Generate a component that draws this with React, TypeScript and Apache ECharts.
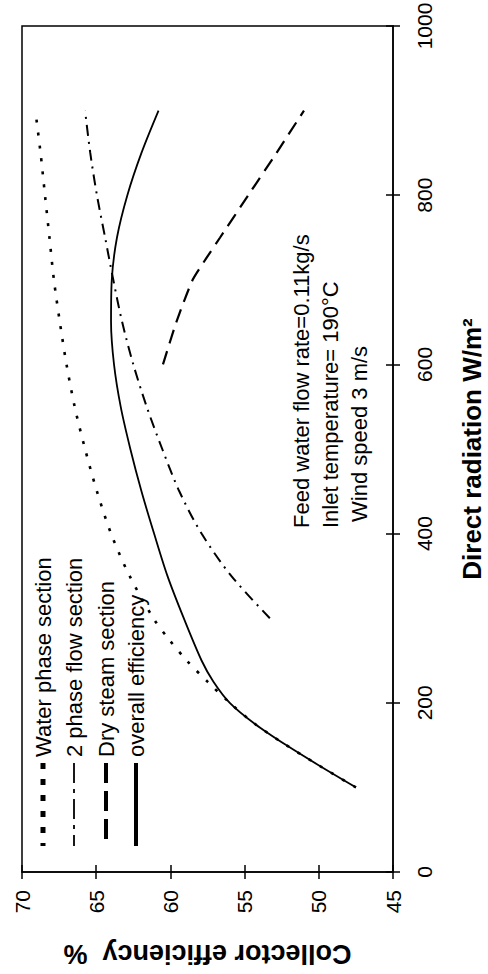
import React, { useEffect, useRef } from "react";
import * as echarts from "echarts";

// Radiation (W/m²) and collector efficiency (%) for each curve
const waterRad = [100, 125, 150, 175, 200, 225, 250, 275, 300, 350, 400, 450, 500, 550, 600, 650, 700, 750, 800, 850, 900];
const waterEff = [47.5, 49.9, 52.2, 54.3, 56.0, 57.5, 58.9, 60.1, 61.15, 62.75, 64.0, 64.95, 65.75, 66.45, 67.0, 67.45, 67.85, 68.15, 68.45, 68.75, 69.1];

const twoPhaseRad = [300, 350, 400, 450, 500, 550, 600, 650, 700, 750, 800, 850, 900];
const twoPhaseEff = [53.3, 55.9, 57.9, 59.4, 60.55, 61.6, 62.5, 63.25, 63.85, 64.4, 64.95, 65.4, 65.75];

const dryRad = [600, 650, 700, 725, 750, 800, 850, 900];
const dryEff = [60.5, 59.6, 58.5, 57.6, 56.65, 54.75, 52.85, 51.0];

const overallRad = [100, 125, 150, 175, 200, 225, 250, 300, 350, 400, 450, 500, 550, 600, 650, 700, 750, 800, 850, 900];
const overallEff = [47.5, 49.9, 52.2, 54.3, 56.0, 57.1, 57.9, 59.1, 60.2, 61.1, 61.95, 62.7, 63.35, 63.8, 64.0, 63.95, 63.6, 62.9, 61.95, 60.8];

const seriesNames = ["Water phase section", "2 phase flow section", "Dry steam section", "overall efficiency"];
const notes = ["Feed water flow rate=0.11kg/s", "Inlet temperature= 190°C", "Wind speed 3 m/s"];

const effTicks = { min: 45, max: 70, interval: 5 };
const radTicks = { min: 0, max: 1000, interval: 200 };

const FONT = "Liberation Sans, Arial, sans-serif";

function pairs(eff: number[], rad: number[]) {
  return eff.map((e, i) => [e, rad[i]]);
}

export default function App() {
  const ref = useRef<HTMLDivElement>(null);
  useEffect(() => {
    if (!ref.current) return;
    const chart = echarts.init(ref.current, null, { renderer: "svg" });
    const black = "#000";
    const baseX = {
      type: "value",
      min: effTicks.min,
      max: effTicks.max,
      interval: effTicks.interval,
      inverse: true,
      position: "bottom",
      splitLine: { show: false },
    };
    const baseY = {
      type: "value",
      min: radTicks.min,
      max: radTicks.max,
      interval: radTicks.interval,
      position: "right",
      splitLine: { show: false },
    };
    const rot = Math.PI / 2;
    const legendX = [43, 74, 106, 136];
    const legendDash: any[] = [[6, 10], [20, 6, 4, 6], [20, 8], null];
    const legendWidth = [5, 1.8, 4, 4];
    const graphics: any[] = [];
    seriesNames.forEach((n, i) => {
      graphics.push({
        type: "line",
        shape: { x1: legendX[i], y1: 763, x2: legendX[i], y2: 846 },
        style: { stroke: black, lineWidth: legendWidth[i], lineDash: legendDash[i] || undefined },
      });
      graphics.push({
        type: "text",
        x: legendX[i],
        y: 757,
        rotation: rot,
        style: { text: n, fill: black, font: `22px ${FONT}`, textAlign: "left", textVerticalAlign: "middle" },
      });
    });
    const noteX = [301, 330, 359];
    const noteY = [528, 528, 522];
    notes.forEach((t, i) => {
      graphics.push({
        type: "text",
        x: noteX[i],
        y: noteY[i],
        rotation: rot,
        style: { text: t, fill: black, font: `22px ${FONT}`, textAlign: "left", textVerticalAlign: "middle" },
      });
    });

    chart.setOption({
      animation: false,
      backgroundColor: "#fff",
      grid: {
        left: 22, right: 95, top: 26, bottom: 102,
        containLabel: false, outerBoundsMode: "none",
        show: true, borderColor: black, borderWidth: 1.5, backgroundColor: "transparent",
      },
      xAxis: [
        {
          ...baseX,
          axisLine: { show: true, lineStyle: { color: black, width: 1.5 } },
          axisTick: { show: true, length: 7, lineStyle: { color: black, width: 1.5 } },
          axisLabel: { rotate: 90, fontSize: 21, color: black, fontFamily: FONT, margin: 18, formatter: (v: number) => String(v) },
          name: "Collector efficiency  %",
          nameLocation: "middle",
          nameGap: 68,
          nameRotate: 180,
          nameTextStyle: { fontSize: 27, fontWeight: "bold", color: black, fontFamily: FONT },
        },
        {
          ...baseX,
          axisLine: { show: false },
          axisTick: { show: true, inside: true, length: 7, lineStyle: { color: black, width: 1.5 } },
          axisLabel: { show: false },
        },
      ],
      yAxis: [
        {
          ...baseY,
          axisLine: { show: true, lineStyle: { color: black, width: 1.5 } },
          axisTick: { show: true, length: 7, lineStyle: { color: black, width: 1.5 } },
          axisLabel: { rotate: 90, fontSize: 21, color: black, fontFamily: FONT, margin: 21, formatter: (v: number) => String(v) },
          name: "Direct radiation W/m²",
          nameLocation: "middle",
          nameGap: 66,
          nameRotate: 90,
          nameTextStyle: { fontSize: 26, lineHeight: 26, fontWeight: "bold", color: black, fontFamily: FONT },
        },
        {
          ...baseY,
          axisLine: { show: false },
          axisTick: { show: true, inside: true, length: 7, lineStyle: { color: black, width: 1.5 } },
          axisLabel: { show: false },
        },
      ],
      series: [
        {
          name: seriesNames[0],
          type: "line",
          data: pairs(waterEff, waterRad),
          smooth: 0.3,
          showSymbol: false,
          lineStyle: { color: black, width: 2.6, type: [3, 10] },
        },
        {
          name: seriesNames[1],
          type: "line",
          data: pairs(twoPhaseEff, twoPhaseRad),
          smooth: 0.3,
          showSymbol: false,
          lineStyle: { color: black, width: 2, type: [11, 6, 2, 6] },
        },
        {
          name: seriesNames[2],
          type: "line",
          data: pairs(dryEff, dryRad),
          smooth: 0.2,
          showSymbol: false,
          lineStyle: { color: black, width: 2.2, type: [14, 8] },
        },
        {
          name: seriesNames[3],
          type: "line",
          data: pairs(overallEff, overallRad),
          smooth: 0.3,
          showSymbol: false,
          lineStyle: { color: black, width: 1.8 },
        },
      ],
      graphic: graphics,
    });
    return () => chart.dispose();
  }, []);
  return <div ref={ref} style={{ position: "fixed", left: 0, top: 0, width: 488, height: 974 }} />;
}
